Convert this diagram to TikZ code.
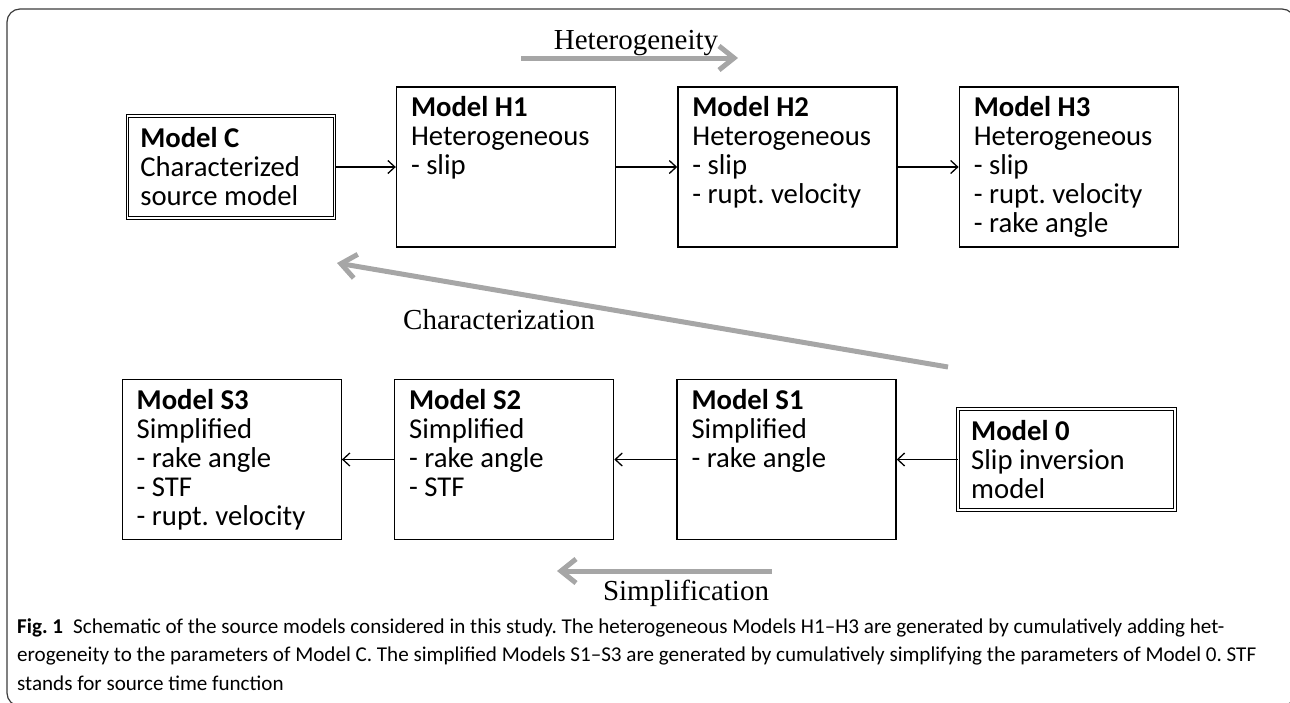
\documentclass[tikz,border=0pt]{standalone}
\usepackage{fontspec}
\setmainfont{Carlito}
\newfontfamily\labelfont{Liberation Serif}
\newfontfamily\capfont{Carlito}
\usetikzlibrary{positioning, arrows.meta}
\definecolor{trendgrey}{RGB}{166,166,166}
\definecolor{framegrey}{RGB}{60,60,60}
\newcommand{\modeltext}[1]{\parbox[c][141pt][t]{190pt}{#1}}
\frenchspacing

\begin{document}
\begin{tikzpicture}[x=1pt, y=-1pt, font=\fontsize{28.7}{29}\selectfont,
    modelbox/.style={draw, line width=1.4pt, inner sep=0pt, minimum width=219pt, minimum height=160pt},
    basebox/.style={draw, line width=1pt, double, double distance=1.6pt, inner sep=0pt},
    flow/.style={-{Straight Barb[length=7pt, width=13pt]}, line width=1.3pt},
    trend/.style={trendgrey, line width=5pt, -{Straight Barb[length=15pt, width=24pt]}},
    trendlabel/.style={font=\labelfont\fontsize{29}{30}\selectfont, anchor=base, inner sep=0pt}]
  \useasboundingbox (0,0) rectangle (1290,702);
  \draw[framegrey, line width=1.2pt, rounded corners=13pt] (7,9) rectangle (1295,706);
  % heterogeneous row
  \node[modelbox] (H1) at (506,167) {\modeltext{\textbf{Model H1}\\Heterogeneous\\- slip}};
  \node[modelbox, right=61pt of H1] (H2) {\modeltext{\textbf{Model H2}\\Heterogeneous\\- slip\\- rupt. velocity}};
  \node[modelbox, right=61pt of H2] (H3) {\modeltext{\textbf{Model H3}\\Heterogeneous\\- slip\\- rupt. velocity\\- rake angle}};
  \node[basebox, minimum width=207pt, minimum height=102pt, left=61pt of H1] (C)
    {\parbox{181pt}{\textbf{Model C}\\Characterized\\source model}};
  % simplified row
  \node[modelbox] (S1) at (786.5,459.5) {\modeltext{\textbf{Model S1}\\Simplified\\- rake angle}};
  \node[modelbox, left=62pt of S1] (S2) {\modeltext{\textbf{Model S2}\\Simplified\\- rake angle\\- STF}};
  \node[modelbox, left=52pt of S2] (S3) {\modeltext{\textbf{Model S3}\\Simplified\\- rake angle\\- STF\\- rupt. velocity}};
  \node[basebox, minimum width=217pt, minimum height=101pt, right=61pt of S1] (M0)
    {\parbox{191pt}{\textbf{Model 0}\\Slip inversion\\model}};
  \foreach \a/\b in {C/H1, H1/H2, H2/H3, M0/S1, S1/S2, S2/S3}
    \draw[flow] (\a) -- (\b);
  % trend arrows
  \coordinate (hetA) at (521,58);
  \coordinate (hetB) at (738,58);
  \coordinate (chaA) at (948,367);
  \coordinate (chaB) at (337,263);
  \coordinate (simA) at (772,571);
  \coordinate (simB) at (557,571);
  \draw[trend] (hetA) -- (hetB);
  \draw[trend] (chaA) -- (chaB);
  \draw[trend] (simA) -- (simB);
  \node[trendlabel] (hetlbl) at (636,49) {Heterogeneity};
  \node[trendlabel] (chalbl) at (499,329) {Characterization};
  \node[trendlabel] (simlbl) at (686,600) {Simplification};
  % caption
  \node[anchor=base west, inner sep=0pt, align=left, font=\capfont\fontsize{21.1}{28.5}\selectfont] (caption) at (17,690)
    {\textbf{Fig. 1}\hspace{10pt}Schematic of the source models considered in this study. The heterogeneous Models H1–H3 are generated by cumulatively adding het-\\
     erogeneity to the parameters of Model C. The simplified Models S1–S3 are generated by cumulatively simplifying the parameters of Model 0. STF\\
     stands for source time function};
\end{tikzpicture}
\end{document}
